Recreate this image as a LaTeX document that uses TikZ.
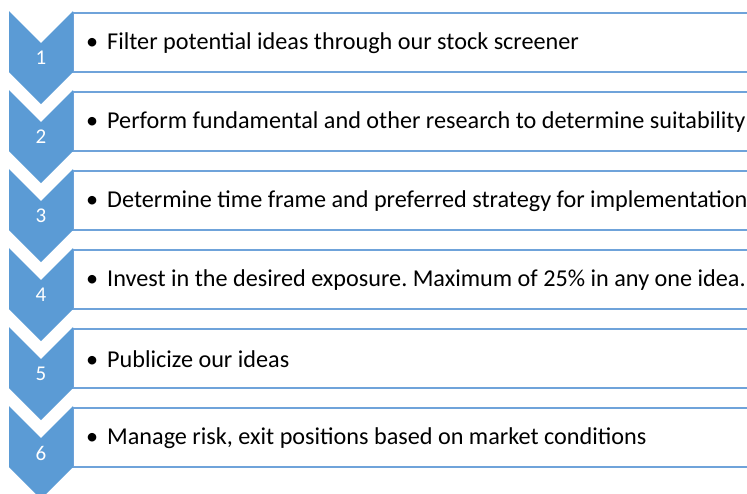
\documentclass[tikz,border=0pt]{standalone}
\usepackage{fontspec}
\setmainfont{Carlito}
\usetikzlibrary{positioning}
\definecolor{stepblue}{HTML}{5B9BD5}
\definecolor{lineblue}{HTML}{6FA3DA}
\tikzset{
  stepnum/.style={text=white, font=\fontsize{21}{24}\selectfont},
  steptext/.style={anchor=west, inner sep=0pt, font=\fontsize{24.2}{26}\selectfont},
  stepbox/.style={draw=lineblue, line width=1.6pt}
}
\frenchspacing
\begin{document}
\begin{tikzpicture}[x=1pt, y=-1pt]
  \useasboundingbox (0,0) rectangle (747,493);
  \clip (0,0) rectangle (747,493);
  \foreach[count=\i] \txt in {
      {Filter potential ideas through our stock screener},
      {Perform fundamental and other research to determine suitability},
      {Determine time frame and preferred strategy for implementation},
      {Invest in the desired exposure. Maximum of 25\% in any one idea.},
      {Publicize our ideas},
      {Manage risk, exit positions based on market conditions}} {
    \pgfmathsetmacro\top{11+79*(\i-1)}
    % box first, chevron on top of its left edge
    \draw[stepbox] (73,\top+2) rectangle (770,\top+61);
    \fill[stepblue] (9,\top) -- (41,\top+32) -- (73,\top) -- (73,\top+61)
      -- (41,\top+93) -- (9,\top+61) -- cycle;
    \node[stepnum] (num-\i) at (41,\top+47) {\i};
    \node[steptext] (txt-\i) at (86,\top+32)
      {\makebox[21pt][l]{\textbullet}\txt};
  }
\end{tikzpicture}
\end{document}
